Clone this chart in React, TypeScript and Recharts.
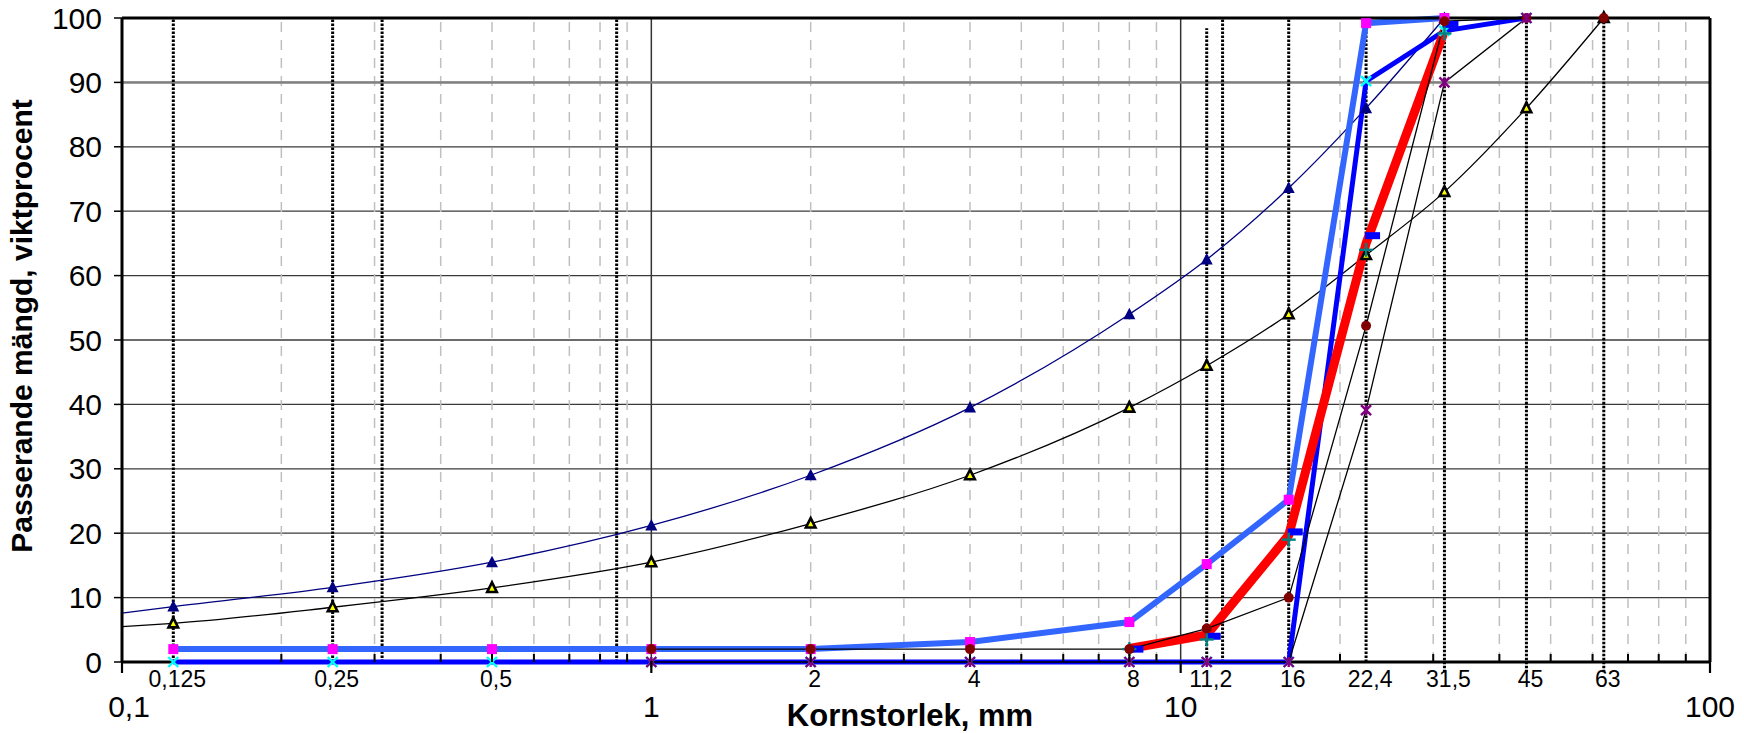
import React from 'react';
import { ComposedChart, Line, XAxis, YAxis, CartesianGrid, ReferenceLine } from 'recharts';

// ---------- axis / tick data ----------
const decadeTicks = [0.1, 1, 10, 100];
const decadeLabels = ['0,1', '1', '10', '100'];
const sieveTicks = [0.125, 0.25, 0.5, 2, 4, 8, 11.2, 16, 22.4, 31.5, 45, 63];
const sieveLabels = ['0,125', '0,25', '0,5', '2', '4', '8', '11,2', '16', '22,4', '31,5', '45', '63'];
const minorTicks = [0.2, 0.3, 0.4, 0.5, 0.6, 0.7, 0.8, 0.9, 2, 3, 4, 5, 6, 7, 8, 9, 20, 30, 40, 50, 60, 70, 80, 90];
const yTicks = [0, 10, 20, 30, 40, 50, 60, 70, 80, 90, 100];
const dottedSieves = [0.125, 0.25, 0.31, 0.86, 12, 16, 22.4];
const dottedLongSieves = [31.5, 63, 45];
const shortDottedSieve = 11.2;
const shortDottedTop = 98.4;

// ---------- series data ----------
const curveStart = 0.1;
const sizesUpper = [0.125, 0.25, 0.5, 1, 2, 4, 8, 11.2, 16, 22.4, 31.5];
const upperLimitStart = 7.6;
const upperLimit = [8.6, 11.6, 15.5, 21.2, 29, 39.5, 54, 62.5, 73.6, 86, 100];
const sizesLower = [0.125, 0.25, 0.5, 1, 2, 4, 8, 11.2, 16, 22.4, 31.5, 45, 63];
const lowerLimitStart = 5.5;
const lowerLimit = [6, 8.5, 11.5, 15.5, 21.5, 29, 39.5, 46, 54, 63.2, 73, 86, 100];

const sizesLightBlue = [0.125, 0.25, 0.5, 1, 2, 4, 8, 11.2, 16, 22.4, 31.5];
const lightBlueVals = [2, 2, 2, 2, 2, 3.1, 6.2, 15.2, 25.2, 99.2, 100];

const sizesBlue = [0.125, 0.25, 0.5, 1, 2, 4, 8, 11.2, 16, 22.4, 31.5, 45];
const blueVals = [0, 0, 0, 0, 0, 0, 0, 0, 0, 90.2, 98, 100];

const sizesCoarse = [8, 11.2, 16, 22.4, 31.5];
const redVals = [2.1, 4.2, 19.7, 65, 98];
const dashVals = [2, 4, 20.2, 66.2, 99];
const tealVals = [2, 3.5, 19, 64, 97.6];

const sizesMaroon = [1, 2, 4, 8, 11.2, 16, 22.4, 31.5, 45, 63];
const maroonVals = [2, 2, 2, 2, 5.2, 10, 52.2, 99.5, 100, 100];

const sizesPurple = [1, 2, 4, 8, 11.2, 16, 22.4, 31.5, 45];
const purpleVals = [0, 0, 0, 0, 0, 0, 39.1, 90, 100];

const pts = (xs: number[], ys: number[]) => xs.map((x, i) => ({ x, y: ys[i] }));
const upperData = [{ x: curveStart, y: upperLimitStart }, ...pts(sizesUpper, upperLimit)];
const lowerData = [{ x: curveStart, y: lowerLimitStart }, ...pts(sizesLower, lowerLimit)];
const lightBlueData = pts(sizesLightBlue, lightBlueVals);
const blueData = pts(sizesBlue, blueVals);
const redData = pts(sizesCoarse, redVals);
const dashData = pts(sizesCoarse, dashVals);
const tealData = pts(sizesCoarse, tealVals);
const maroonData = pts(sizesMaroon, maroonVals);
const purpleData = pts(sizesPurple, purpleVals);

const FONT = '"Liberation Sans", Arial, Helvetica, sans-serif';
const near = (a: number, b: number) => Math.abs(a - b) < 1e-6;
const idxOf = (arr: number[], v: number) => arr.findIndex((a) => near(a, v));

const allTicks = Array.from(new Set([...decadeTicks, ...sieveTicks, ...minorTicks])).sort((a, b) => a - b);

// ---------- markers ----------
const empty = (k: any) => <g key={k} />;
const navyTri = (p: any) => {
  const { cx, cy, index, payload } = p;
  if (cx == null || cy == null || near(payload.x, curveStart)) return empty(`n${index}`);
  return <polygon key={`n${index}`} points={`${cx},${cy - 6.5} ${cx - 6},${cy + 5} ${cx + 6},${cy + 5}`} fill="#000080" />;
};
const yellowTri = (p: any) => {
  const { cx, cy, index, payload } = p;
  if (cx == null || cy == null || near(payload.x, curveStart)) return empty(`t${index}`);
  return <polygon key={`t${index}`} points={`${cx},${cy - 5.5} ${cx - 4.8},${cy + 4} ${cx + 4.8},${cy + 4}`} fill="#ffff00" stroke="#000" strokeWidth={2.6} strokeLinejoin="miter" />;
};
const magentaSq = (p: any) => {
  const { cx, cy, index } = p;
  return <rect key={`m${index}`} x={cx - 5} y={cy - 5} width={10} height={10} fill="#ff00ff" />;
};
const cyanX = (p: any) => {
  const { cx, cy, index } = p;
  return (
    <g key={`c${index}`} stroke="#00ffff" strokeWidth={2.4}>
      <line x1={cx - 5} y1={cy - 5} x2={cx + 5} y2={cy + 5} />
      <line x1={cx - 5} y1={cy + 5} x2={cx + 5} y2={cy - 5} />
    </g>
  );
};
const purpleStar = (p: any) => {
  const { cx, cy, index } = p;
  return (
    <g key={`p${index}`} stroke="#800080" strokeWidth={2.4}>
      <line x1={cx - 5} y1={cy - 5} x2={cx + 5} y2={cy + 5} />
      <line x1={cx - 5} y1={cy + 5} x2={cx + 5} y2={cy - 5} />
      <line x1={cx} y1={cy - 5} x2={cx} y2={cy + 5} />
    </g>
  );
};
const tealPlus = (p: any) => {
  const { cx, cy, index } = p;
  return (
    <g key={`tp${index}`} stroke="#008080" strokeWidth={2.4}>
      <line x1={cx - 7} y1={cy} x2={cx + 7} y2={cy} />
      <line x1={cx} y1={cy - 7} x2={cx} y2={cy + 7} />
    </g>
  );
};
const blueDash = (p: any) => {
  const { cx, cy, index } = p;
  return <rect key={`d${index}`} x={cx - 1} y={cy - 3.5} width={15} height={7} fill="#0000ff" />;
};
const maroonDot = (p: any) => {
  const { cx, cy, index } = p;
  return <circle key={`o${index}`} cx={cx} cy={cy} r={5} fill="#800000" />;
};

// ---------- ticks ----------
const XTick = (props: any) => {
  const { x, y, payload } = props;
  const v = payload.value;
  const di = idxOf(decadeTicks, v);
  const si = idxOf(sieveTicks, v);
  const mi = idxOf(minorTicks, v);
  return (
    <g>
      {di >= 0 && <line x1={x} x2={x} y1={y - 1} y2={y + 11} stroke="#000" strokeWidth={2.2} />}
      {mi >= 0 && <line x1={x} x2={x} y1={y} y2={y - 8} stroke="#000" strokeWidth={2} />}
      {di >= 0 && (
        <text x={x + (near(v, 0.1) ? 7 : 0)} y={y + 55} textAnchor="middle" fontSize={30} fontFamily={FONT} fill="#000">
          {decadeLabels[di]}
        </text>
      )}
      {si >= 0 && (
        <text x={x + 4} y={y + 25} textAnchor="middle" fontSize={23} fontFamily={FONT} fill="#000">
          {sieveLabels[si]}
        </text>
      )}
    </g>
  );
};

const XTitle = (props: any) => {
  const vb = props.viewBox || {};
  return (
    <text x={vb.x + vb.width / 2 - 6} y={vb.y + 64} textAnchor="middle" fontSize={31} fontWeight="bold" fontFamily={FONT} fill="#000">
      Kornstorlek, mm
    </text>
  );
};
const YTitle = (props: any) => {
  const vb = props.viewBox || {};
  const cx = 21;
  const cy = vb.y + vb.height / 2 - 14;
  return (
    <text x={cx} y={cy} transform={`rotate(-90, ${cx}, ${cy})`} textAnchor="middle" dominantBaseline="central" fontSize={30} fontWeight="bold" fontFamily={FONT} fill="#000">
      Passerande mängd, viktprocent
    </text>
  );
};

export default function App() {
  return (
    <div style={{ position: 'absolute', left: 0, top: 0, width: 1744, height: 733, background: '#fff' }}>
      <ComposedChart width={1744} height={733} margin={{ top: 18, right: 34, bottom: 0, left: 0 }}>
        <CartesianGrid vertical={false} stroke="#3a3a3a" strokeWidth={1.3} />
        <XAxis
          dataKey="x"
          type="number"
          scale="log"
          domain={[0.1, 100]}
          ticks={allTicks}
          interval={0}
          tick={<XTick />}
          tickLine={false}
          tickSize={0}
          tickMargin={0}
          height={71}
          axisLine={false}
          label={<XTitle />}
        />
        <YAxis
          type="number"
          domain={[0, 100]}
          ticks={yTicks}
          interval={0}
          width={122}
          tickSize={8}
          tickMargin={12}
          tickLine={{ stroke: '#000', strokeWidth: 1.5 }}
          axisLine={{ stroke: '#000', strokeWidth: 3 }}
          tick={{ fontSize: 30, fontFamily: FONT, fill: '#000' }}
          label={<YTitle />}
        />
        {minorTicks.map((v) => (
          <ReferenceLine key={`g${v}`} x={v} stroke="#c0c0c0" strokeWidth={1.5} strokeDasharray="10 8" />
        ))}
        <ReferenceLine x={1} stroke="#333" strokeWidth={1.5} />
        <ReferenceLine x={10} stroke="#333" strokeWidth={1.5} />
        <ReferenceLine y={90} stroke="#808080" strokeWidth={2.5} />
        <ReferenceLine y={0} stroke="#000" strokeWidth={3} />

        {dottedSieves.map((v) => (
          <ReferenceLine key={`s${v}`} x={v} stroke="#000" strokeWidth={3} strokeDasharray="2.5 1.5" />
        ))}
        {dottedLongSieves.map((v) => (
          <ReferenceLine
            key={`sl${v}`}
            segment={[{ x: v, y: -1.6 }, { x: v, y: 100 }]}
            ifOverflow="visible"
            stroke="#000"
            strokeWidth={3}
            strokeDasharray="2.5 1.5"
          />
        ))}
        <ReferenceLine
          segment={[{ x: shortDottedSieve, y: 0 }, { x: shortDottedSieve, y: shortDottedTop }]}
          stroke="#000"
          strokeWidth={3}
          strokeDasharray="2.5 1.5"
        />

        <Line data={upperData} dataKey="y" type="monotone" stroke="#000080" strokeWidth={1.3} dot={navyTri} activeDot={false} isAnimationActive={false} />
        <Line data={lowerData} dataKey="y" type="monotone" stroke="#000" strokeWidth={1.3} dot={yellowTri} activeDot={false} isAnimationActive={false} />
        <Line data={lightBlueData} dataKey="y" type="linear" stroke="#3366ff" strokeWidth={6} dot={false} activeDot={false} isAnimationActive={false} />
        <Line data={blueData} dataKey="y" type="linear" stroke="#0000ff" strokeWidth={5} dot={false} activeDot={false} isAnimationActive={false} />
        <Line data={redData} dataKey="y" type="linear" stroke="#ff0000" strokeWidth={9} dot={false} activeDot={false} isAnimationActive={false} />
        <Line data={maroonData} dataKey="y" type="linear" stroke="#000" strokeWidth={1.3} dot={false} activeDot={false} isAnimationActive={false} />
        <Line data={purpleData} dataKey="y" type="linear" stroke="#000" strokeWidth={1.3} dot={false} activeDot={false} isAnimationActive={false} />

        <Line data={lightBlueData} dataKey="y" stroke="none" dot={magentaSq} activeDot={false} isAnimationActive={false} />
        <Line data={blueData} dataKey="y" stroke="none" dot={cyanX} activeDot={false} isAnimationActive={false} />
        <Line data={dashData} dataKey="y" stroke="none" dot={blueDash} activeDot={false} isAnimationActive={false} />
        <Line data={tealData} dataKey="y" stroke="none" dot={tealPlus} activeDot={false} isAnimationActive={false} />
        <Line data={maroonData} dataKey="y" stroke="none" dot={maroonDot} activeDot={false} isAnimationActive={false} />
        <Line data={purpleData} dataKey="y" stroke="none" dot={purpleStar} activeDot={false} isAnimationActive={false} />

        <ReferenceLine y={100} stroke="#000" strokeWidth={3} />
        <ReferenceLine x={100} stroke="#000" strokeWidth={3} />
      </ComposedChart>
    </div>
  );
}
